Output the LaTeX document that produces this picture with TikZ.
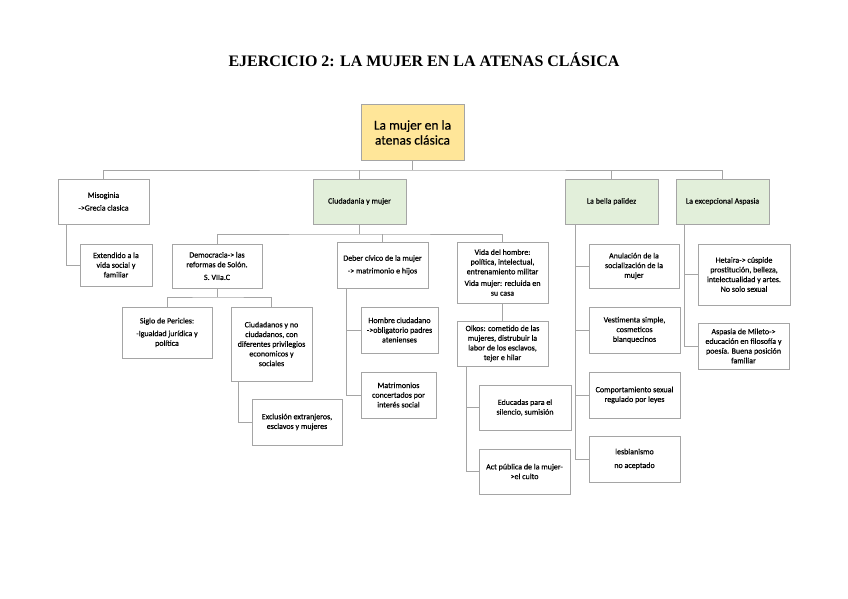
\documentclass[tikz,border=0pt]{standalone}
\usepackage{fontspec}
\setmainfont{Carlito}
\newfontfamily\cajafont{Carlito}[FakeBold=0.5]
\newfontfamily\titlefont{Liberation Serif}
\usepackage{xcolor}
\usetikzlibrary{calc, positioning}

\definecolor{bordegris}{HTML}{A5A5A5}
\definecolor{amarillo}{HTML}{FFE699}
\definecolor{verdeclaro}{HTML}{E2EFDA}

\tikzset{
    caja/.style={draw=bordegris, line width=1pt, fill=white, align=center,
        inner sep=1pt, font=\cajafont\fontsize{8}{9.7}\selectfont},
    cajaverde/.style={caja, fill=verdeclaro},
    raiz/.style={caja, fill=amarillo, font=\cajafont\fontsize{13.5}{15}\selectfont},
    conector/.style={draw=bordegris, line width=1pt},
}

\begin{document}
\begin{tikzpicture}[x=1pt, y=-1pt]
    \useasboundingbox (0,0) rectangle (848,599);
    % Título y nodo raíz
    \node (titulo) at (424,60) {\titlefont\bfseries\fontsize{16}{18}\selectfont EJERCICIO 2: LA MUJER EN LA ATENAS CLÁSICA};
    \node[raiz, minimum width=103pt, minimum height=55pt] (raiz) at (412.5,132.5) {La mujer en la\\atenas clásica};

    % Primer nivel
    \node[caja, minimum width=91pt, minimum height=45pt] (misog) at (103.5,201.5) {Misoginia\\[3pt]->Grecia clasica};
    \node[cajaverde, minimum width=93pt, minimum height=45pt] (ciud) at (359.5,201.5) {Ciudadania y mujer};
    \node[cajaverde, minimum width=93pt, minimum height=45pt] (bella) at (611.5,201.5) {La bella palidez};
    \node[cajaverde, minimum width=93pt, minimum height=45pt] (aspa) at (722.5,201.5) {La excepcional Aspasia};

    % Segundo nivel
    \node[caja, minimum width=72pt, minimum height=42pt] (extend) at (116,265) {Extendido a la\\vida social y\\familiar};
    \node[caja, minimum width=90pt, minimum height=44pt] (demo) at (217,266) {Democracia-> las\\reformas de Solón.\\[3pt]S. VIIa.C};
    \node[caja, minimum width=91pt, minimum height=46pt] (deber) at (382.5,265) {Deber cívico de la mujer\\[3pt]-> matrimonio e hijos};
    \node[caja, minimum width=91pt, minimum height=61pt] (vida) at (502.5,272.5) {Vida del hombre:\\política, intelectual,\\entrenamiento militar\\[2pt]Vida mujer: recluida en\\su casa};
    \node[caja, minimum width=90pt, minimum height=44pt] (anul) at (634,266) {Anulación de la\\socialización de la\\mujer};
    \node[caja, minimum width=92pt, minimum height=61pt] (heta) at (744,274.5) {Hetaira-> cúspide\\prostitución, belleza,\\intelectualidad y artes.\\No solo sexual};

    % Tercer nivel
    \node[caja, minimum width=90pt, minimum height=51pt] (siglo) at (167,332.5) {Siglo de Pericles:\\[3pt]-Igualdad jurídica y\\política};
    \node[caja, minimum width=81pt, minimum height=74pt] (ciudn) at (271.5,344) {Ciudadanos y no\\ciudadanos, con\\diferentes privilegios\\economicos y\\sociales};
    \node[caja, minimum width=90pt, minimum height=46pt] (excl) at (297,422) {Exclusión extranjeros,\\esclavos y mujeres};
    \node[caja, minimum width=77pt, minimum height=46pt] (hombre) at (399.5,330) {Hombre ciudadano\\->obligatorio padres\\atenienses};
    \node[caja, minimum width=75pt, minimum height=46pt] (matri) at (398.5,395) {Matrimonios\\concertados por\\interés social};
    \node[caja, minimum width=91pt, minimum height=45pt] (oikos) at (502.5,343.5) {Oikos: cometido de las\\mujeres, distrubuir la\\labor de los esclavos,\\tejer e hilar};
    \node[caja, minimum width=92pt, minimum height=45pt] (educ) at (525,407.5) {Educadas para el\\silencio, sumisión};
    \node[caja, minimum width=91pt, minimum height=45pt] (act) at (524.5,471.5) {Act pública de la mujer-\\>el culto};
    \node[caja, minimum width=91pt, minimum height=46pt] (vest) at (634.5,330) {Vestimenta simple,\\cosmeticos\\blanquecinos};
    \node[caja, minimum width=91pt, minimum height=46pt] (comp) at (634.5,395) {Comportamiento sexual\\regulado por leyes};
    \node[caja, minimum width=91pt, minimum height=46pt] (lesb) at (634.5,459) {lesbianismo\\[4pt]no aceptado};
    \node[caja, minimum width=91pt, minimum height=46pt] (mileto) at (743.5,346) {Aspasia de Mileto->\\educación en filosofía y\\poesía. Buena posición\\familiar};

    % Conectores
    \coordinate (bus1) at (412.5,170);
    \coordinate (bus2) at (359.5,234);
    \coordinate (bus3) at (217,297);
    \draw[conector] (raiz.south) -- (bus1);
    \draw[conector] (misog.north) |- (bus1) -| (aspa.north);
    \draw[conector] (ciud.north) -- (ciud.north |- bus1);
    \draw[conector] (bella.north) -- (bella.north |- bus1);

    \draw[conector] ([xshift=9pt]misog.south west) |- (extend.west);

    \draw[conector] (ciud.south) -- (bus2);
    \draw[conector] (demo.north) |- (bus2) -| (vida.north);
    \draw[conector] (deber.north) -- (deber.north |- bus2);

    \draw[conector] (demo.south) -- (bus3);
    \draw[conector] (siglo.north) |- (bus3) -| (ciudn.north);
    \draw[conector] ([xshift=8pt]ciudn.south west) |- (excl.west);

    \draw[conector] ([xshift=10pt]deber.south west) |- (hombre.west);
    \draw[conector] ([xshift=10pt]deber.south west) |- (matri.west);

    \draw[conector] (vida.south) -- (oikos.north);
    \draw[conector] ([xshift=10pt]oikos.south west) |- (educ.west);
    \draw[conector] ([xshift=10pt]oikos.south west) |- (act.west);

    \foreach \hijo in {anul, vest, comp, lesb}
        \draw[conector] ([xshift=11pt]bella.south west) |- (\hijo.west);
    \foreach \hijo in {heta, mileto}
        \draw[conector] ([xshift=9pt]aspa.south west) |- (\hijo.west);
\end{tikzpicture}
\end{document}
